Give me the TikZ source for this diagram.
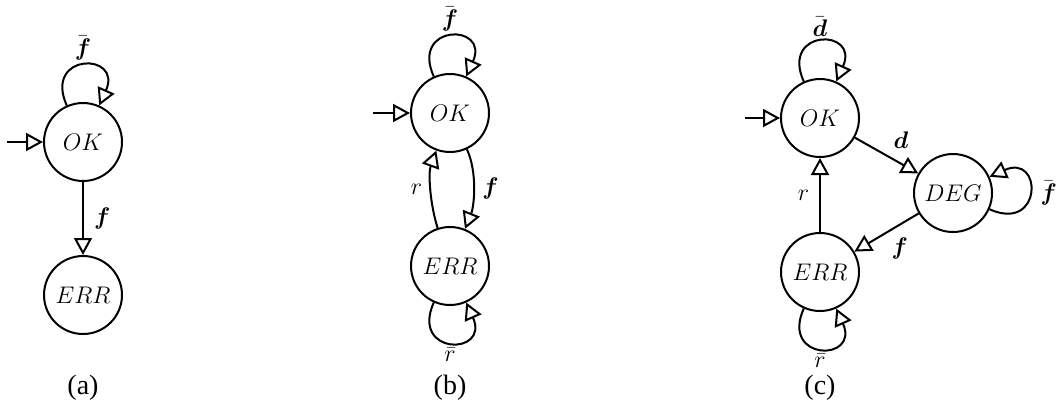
\documentclass[tikz,border=0pt]{standalone}
\usepackage{amsmath,amssymb}
\usepackage{fontspec}
\newfontfamily\capfont{Liberation Serif}
\usepackage{tikz}
\usetikzlibrary{arrows.meta}

\begin{document}
\begin{tikzpicture}[
  x=0.5pt, y=-0.5pt,
  state/.style={circle, draw, line width=1pt, minimum size=39pt, inner sep=0pt, font=\large},
  edge/.style={line width=1pt, -{Triangle[open, length=8.5pt, width=9pt]}},
  selfloop/.style={loop, looseness=4.6, min distance=0pt},
  lbl/.style={font=\large, inner sep=2pt},
  caption/.style={font=\capfont\fontsize{14}{16}\selectfont},
]
\useasboundingbox (0,0) rectangle (1058,403);

% (a)
\node[state] (okA) at (83,142) {$OK$};
\node[state] (errA) at (83,295) {$ERR$};
\coordinate (initA) at (7,142);
\draw[edge] (initA) -- (okA);
\draw[edge] (okA) to[out=114, in=66, selfloop] node[lbl, above] {$\bar{\boldsymbol{f}}$} (okA);
\draw[edge] (okA) -- node[lbl, right=3pt] {$\boldsymbol{f}$} (errA);
\node[caption] (capA) at (83,388) {(a)};

% (b)
\node[state] (okB) at (450,113) {$OK$};
\node[state] (errB) at (450,266) {$ERR$};
\coordinate (initB) at (373,113);
\draw[edge] (initB) -- (okB);
\draw[edge] (okB) to[out=114, in=66, selfloop] node[lbl, above] {$\bar{\boldsymbol{f}}$} (okB);
\draw[edge] (okB) to[out=-65, in=68, looseness=0.8] node[lbl, right=2pt] {$\boldsymbol{f}$} (errB);
\draw[edge] (errB) to[out=108, in=250, looseness=0.8] node[lbl, left=2pt] {$r$} (okB);
\draw[edge] (errB) to[out=246, in=294, selfloop] node[lbl, below] {$\bar{r}$} (errB);
\node[caption] (capB) at (450,388) {(b)};

% (c)
\node[state] (okC) at (820,118) {$OK$};
\node[state] (degC) at (953,193) {$DEG$};
\node[state] (errC) at (820,272) {$ERR$};
\coordinate (initC) at (745,118);
\draw[edge] (initC) -- (okC);
\draw[edge] (okC) to[out=114, in=66, selfloop] node[lbl, above] {$\bar{\boldsymbol{d}}$} (okC);
\draw[edge] (okC) -- node[lbl, above right, inner sep=3pt] {$\boldsymbol{d}$} (degC);
\draw[edge] (degC) to[out=-24, in=24, selfloop] node[lbl, right=3pt] {$\bar{\boldsymbol{f}}$} (degC);
\draw[edge] (degC) -- node[lbl, below right] {$\boldsymbol{f}$} (errC);
\draw[edge] (errC) -- node[lbl, left=3pt] {$r$} (okC);
\draw[edge] (errC) to[out=246, in=294, selfloop] node[lbl, below] {$\bar{r}$} (errC);
\node[caption] (capC) at (820,388) {(c)};

\end{tikzpicture}
\end{document}
